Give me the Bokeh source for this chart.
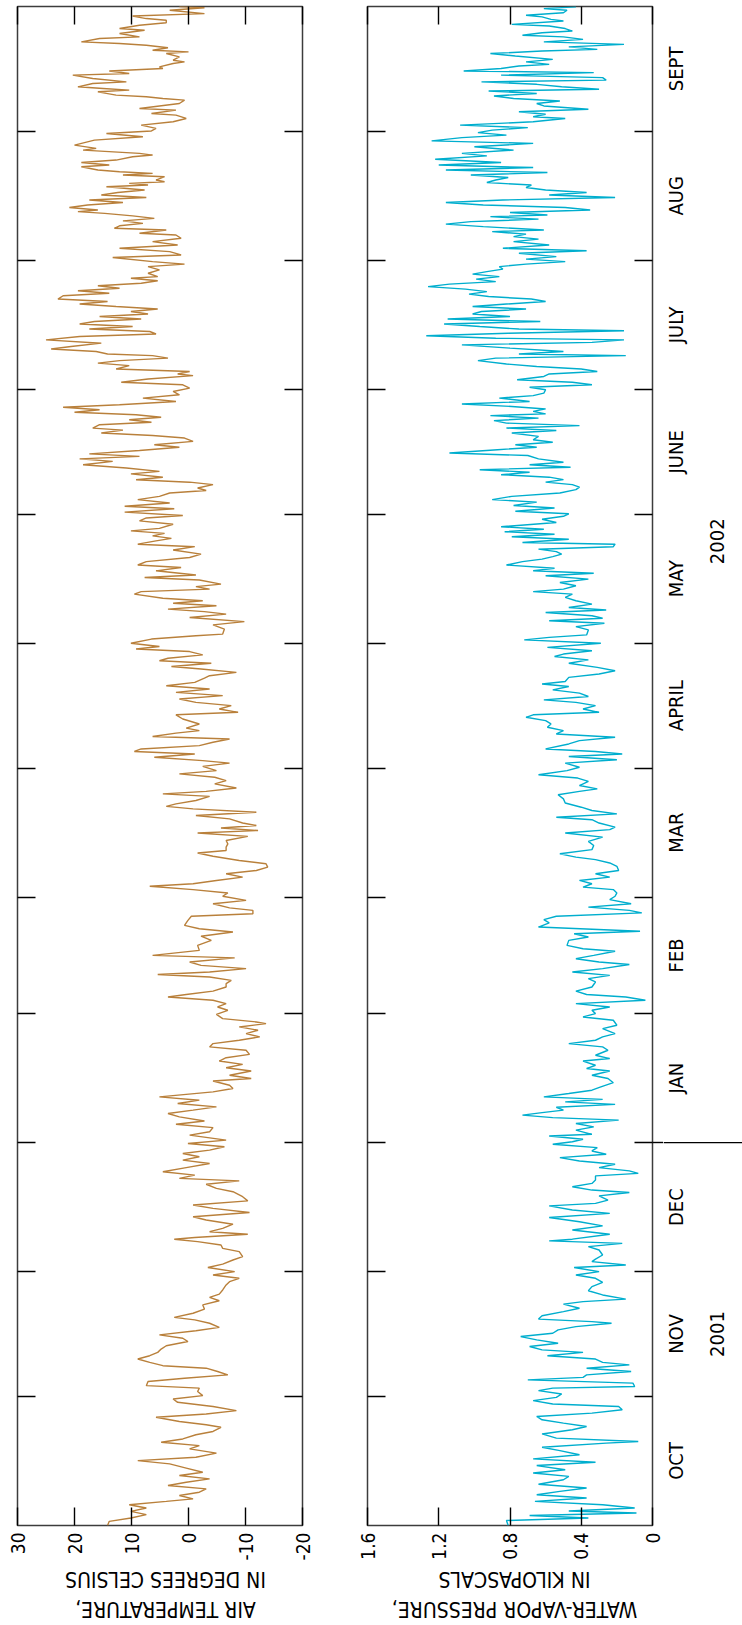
import math
from bokeh.plotting import figure
from bokeh.models import Range1d, FixedTicker, LinearAxis, ColumnDataSource
from bokeh.layouts import row, column
from bokeh.embed import file_html
from bokeh.resources import INLINE
from bokeh.core.properties import value

# ---------------- data (water year Oct 2001 - Sept 2002, day 0 = Oct 1 2001) -------------
month_starts = [0, 31, 61, 92, 123, 151, 182, 212, 243, 273, 304, 335, 365]
month_names = ["OCT", "NOV", "DEC", "JAN", "FEB", "MAR", "APRIL", "MAY", "JUNE", "JULY", "AUG", "SEPT"]
year_names = ["2001", "2002"]
year_label_days = [46.0, 236.5]

temp_ticks = [30, 20, 10, 0, -10, -20]
temp_tick_labels = ["30", "20", "10", "0", "-10", "-20"]
vp_ticks = [1.6, 1.2, 0.8, 0.4, 0]
vp_tick_labels = ["1.6", "1.2", "0.8", "0.4", "0"]
temp_title = ["IN DEGREES CELSIUS", "AIR TEMPERATURE,"]
vp_title = ["IN KILOPASCALS", "WATER-VAPOR PRESSURE,"]

temp_pts = [
(0.0,14.2),(1.0,13.9),(1.8,10.1),(2.6,7.4),(3.4,10.1),(4.2,7.4),(5.0,10.4),(5.8,3.9),(6.4,-0.8),(7.2,1.6),
(8.0,-1.9),(8.8,-3.1),(9.6,3.6),(10.4,0.4),(11.2,-3.7),(12.0,1.6),(12.8,-2.5),(13.8,0.4),(14.8,3.3),(15.6,8.9),
(16.4,-1.3),(17.4,-4.9),(18.4,-0.2),(19.2,-1.9),(20.0,4.8),(20.8,1.0),(21.8,-1.3),(22.6,-4.3),(23.6,-5.7),(24.2,-3.1),
(25.0,1.6),(26.0,5.7),(26.8,-3.1),(27.6,-8.4),(28.6,-4.3),(29.6,1.9),(30.4,2.7),(31.2,-2.5),(32.2,-1.6),(33.0,-1.9),
(33.6,7.4),(34.6,7.1),(35.4,0.7),(36.2,-6.9),(37.0,-5.1),(37.8,-3.1),(38.4,4.5),(39.2,6.8),(40.0,8.9),(40.8,6.8),
(41.6,5.4),(42.4,4.8),(43.2,3.9),(44.2,0.1),(45.0,1.0),(45.8,5.1),(46.8,-1.3),(47.6,-5.4),(48.6,-3.7),(49.4,-1.1),
(50.0,2.5),(51.0,-0.8),(52.0,-2.8),(53.0,-2.5),(54.0,-5.4),(54.8,-3.7),(55.6,-5.4),(56.6,-6.0),(57.8,-6.6),(58.6,-7.2),
(59.4,-8.9),(60.2,-4.3),(61.0,-8.1),(62.0,-3.4),(62.8,-6.0),(63.8,-7.8),(64.6,-9.5),(65.8,-8.9),(66.6,-6.0),(67.4,-5.7),
(68.2,-1.6),(68.8,2.5),(69.2,-1.1),(70.0,-10.4),(70.6,-3.7),(71.4,-6.0),(72.4,-7.8),(73.4,-3.1),(74.2,-0.8),(75.2,-10.7),
(76.2,-4.3),(77.0,-0.8),(78.0,-10.4),(79.0,-9.5),(80.2,-7.8),(81.0,-4.9),(82.0,-3.1),(82.8,-8.9),(83.4,1.6),(84.2,-1.1),
(85.0,4.5),(86.0,0.4),(87.0,-3.7),(87.8,1.0),(88.6,-1.9),(89.4,1.0),(90.2,-3.7),(91.0,-6.3),(91.8,0.1),(92.6,-6.6),
(93.8,-0.2),(94.6,-3.7),(95.6,-4.3),(96.4,2.2),(97.2,-2.8),(98.2,1.6),(99.0,3.6),(99.8,-0.8),(100.6,-4.9),(101.4,1.9),
(102.2,-1.9),(103.0,5.1),(104.2,-4.3),(105.0,-7.8),(105.8,-7.2),(106.8,-4.3),(107.4,-11.0),(108.2,-7.2),(109.2,-11.0),(110.0,-6.6),
(110.8,-9.5),(111.6,-5.4),(112.4,-6.6),(113.2,-10.7),(114.2,-10.1),(115.0,-3.7),(115.8,-4.3),(116.6,-8.9),(117.4,-12.5),(118.2,-10.1),
(119.0,-12.2),(119.8,-8.9),(120.6,-13.6),(121.0,-11.9),(121.8,-6.0),(122.8,-4.9),(123.8,-6.9),(124.6,-5.1),(125.4,-6.6),(126.2,-4.3),
(127.0,3.6),(127.6,0.4),(128.4,-4.3),(129.4,-6.6),(130.2,-6.6),(131.0,-7.5),(131.8,-3.7),(132.4,5.4),(133.0,-3.7),(133.8,-10.1),
(134.6,-2.2),(135.4,-0.2),(136.4,-8.1),(137.0,6.3),(138.2,-1.9),(139.4,-1.6),(140.6,-4.0),(141.6,-2.2),(142.6,-7.8),(143.4,-1.9),
(144.2,0.7),(145.4,0.1),(146.4,-0.5),(147.0,-11.3),(147.8,-11.3),(148.4,-7.2),(149.4,-4.3),(150.2,-10.1),(151.2,-6.0),(152.0,-6.9),
(152.8,-0.8),(153.6,6.8),(154.2,-0.8),(155.0,-4.9),(155.8,-9.5),(156.6,-6.6),(157.4,-11.9),(158.2,-13.9),(159.0,-13.6),(159.8,-8.9),
(160.8,-4.3),(161.6,-1.6),(162.2,-6.6),(163.0,-6.6),(163.8,-6.9),(164.6,-6.6),(165.6,-10.4),(166.4,-1.6),(167.0,-12.2),(167.6,-5.7),
(168.2,-11.9),(168.8,-9.5),(169.8,-7.2),(170.6,-1.3),(171.4,-11.9),(172.2,-0.8),(172.8,3.9),(173.4,2.2),(174.2,-1.3),(175.2,-3.7),
(175.8,4.5),(176.4,-3.1),(177.2,-8.4),(178.2,-4.6),(179.0,-6.6),(179.8,-4.6),(180.6,1.6),(181.4,-4.9),(182.4,-2.5),(183.2,-7.2),
(183.8,-2.5),(184.6,6.0),(185.4,-1.1),(186.0,9.5),(186.6,8.3),(187.4,-1.9),(188.2,-4.3),(189.0,-7.2),(189.6,6.3),(190.4,2.2),
(191.0,-1.9),(191.6,0.4),(192.6,-1.9),(193.8,1.0),(194.8,2.2),(195.4,-8.7),(196.2,-5.4),(197.0,-7.5),(197.8,-1.3),(198.6,1.6),
(199.4,-6.0),(200.2,2.2),(201.0,-3.7),(201.8,3.9),(202.6,-1.1),(203.6,-2.8),(204.2,-3.7),(205.0,-8.4),(205.8,-2.2),(206.4,3.0),
(207.2,-4.0),(207.8,5.1),(208.4,3.6),(209.2,-2.5),(210.0,-0.2),(210.6,9.2),(211.2,5.1),(212.0,10.1),(213.0,6.5),(213.8,-1.3),
(214.2,-6.0),(215.4,-6.3),(216.4,-4.3),(217.2,-9.8),(218.2,-0.2),(219.0,-6.6),(219.6,-2.8),(220.2,3.6),(221.0,-4.9),(221.6,2.7),
(222.2,-2.5),(222.8,4.5),(223.8,9.5),(224.4,8.3),(225.0,-3.7),(225.6,-1.3),(226.2,-5.7),(227.2,-1.9),(227.8,7.7),(228.4,-1.3),
(229.4,5.7),(230.2,1.3),(230.8,8.9),(231.6,7.4),(232.6,-0.2),(233.4,-2.2),(234.4,2.7),(235.2,-1.1),(235.8,8.9),(236.6,5.7),
(237.2,3.0),(237.8,6.3),(238.4,4.2),(239.0,10.1),(239.6,5.1),(240.6,2.7),(241.4,8.6),(242.1,7.4),(242.7,1.0),(243.5,11.2),
(244.3,2.5),(244.9,11.2),(245.7,3.3),(246.5,8.9),(247.3,5.1),(248.1,3.3),(248.7,-3.1),(249.3,-1.6),(250.1,-4.3),(250.7,-0.2),
(251.3,9.2),(251.9,4.5),(252.7,10.1),(253.3,5.1),(254.1,10.9),(254.9,18.5),(255.7,13.3),(256.3,19.1),(256.9,8.6),(257.5,17.4),
(258.3,8.6),(259.1,1.6),(259.7,6.0),(260.5,-0.8),(261.3,0.7),(261.9,6.3),(262.5,15.3),(263.2,11.5),(263.7,16.8),(264.5,15.6),
(265.1,6.5),(265.7,10.4),(266.3,4.8),(266.9,9.2),(267.5,20.0),(268.1,15.6),(268.7,22.0),(269.3,12.1),(270.1,2.2),(270.9,8.0),
(271.7,1.6),(272.5,2.7),(273.3,-0.2),(274.1,1.0),(274.7,11.8),(275.5,7.1),(276.3,-0.8),(276.7,1.9),(277.3,-0.2),(277.9,12.7),
(278.7,10.4),(279.3,15.9),(279.9,12.1),(280.5,3.6),(281.1,6.3),(281.5,14.2),(282.1,16.2),(282.7,24.1),(283.3,20.6),(284.1,15.3),
(284.9,25.0),(285.7,19.1),(286.3,5.7),(286.9,6.8),(287.5,17.4),(288.1,9.8),(288.7,19.1),(289.3,16.5),(289.9,8.3),(290.5,15.6),
(291.1,7.1),(291.7,10.1),(292.3,5.4),(292.9,12.7),(293.5,19.1),(294.1,14.2),(294.7,22.9),(295.5,22.0),(296.1,13.9),(296.7,19.4),
(297.3,12.1),(297.9,15.9),(298.5,8.3),(299.1,5.4),(299.7,10.1),(300.1,5.4),(300.9,7.1),(301.7,5.1),(302.5,7.1),(303.1,0.7),
(303.7,6.3),(304.7,13.3),(305.3,1.3),(306.1,3.3),(306.9,12.1),(307.7,1.9),(308.5,6.3),(309.3,1.3),(310.1,2.2),(310.5,8.6),
(311.3,3.9),(311.7,13.0),(312.3,12.1),(312.9,8.0),(313.5,11.5),(314.1,6.0),(314.7,9.8),(315.3,14.7),(315.7,19.4),(316.1,15.9),
(316.7,20.9),(317.3,17.7),(317.9,11.5),(318.5,17.4),(319.1,7.4),(319.7,15.3),(320.3,12.4),(320.9,7.7),(321.7,14.4),(322.1,7.1),
(322.5,10.4),(322.9,4.2),(323.3,5.7),(324.1,4.2),(324.5,11.5),(324.9,6.3),(325.3,12.1),(325.7,15.9),(326.5,18.8),(326.9,13.9),
(327.5,18.8),(328.1,12.7),(328.9,9.8),(329.3,6.3),(329.7,8.6),(330.5,18.5),(330.9,16.2),(331.7,20.0),(332.9,16.5),(333.7,8.0),
(334.5,14.4),(335.1,6.5),(335.7,5.7),(336.5,8.3),(337.3,2.7),(338.1,0.4),(338.9,2.2),(339.3,6.5),(340.1,2.2),(340.5,8.6),
(341.7,1.6),(342.5,0.7),(342.9,4.5),(343.3,7.4),(343.7,12.7),(344.5,15.9),(344.9,10.4),(345.3,15.0),(345.7,19.4),(346.5,16.8),
(346.9,10.9),(347.7,16.8),(348.5,20.3),(348.9,10.4),(349.5,13.9),(350.1,4.5),(350.5,5.1),(351.3,2.7),(351.7,0.7),(352.1,2.7),
(352.9,1.6),(353.7,3.9),(354.1,0.0),(354.5,6.3),(355.1,3.6),(355.7,7.4),(356.1,12.1),(356.5,18.8),(357.3,15.6),(357.7,8.6),
(358.5,12.1),(359.3,7.7),(359.7,12.1),(360.5,8.6),(361.1,3.9),(361.7,3.9),(362.1,7.4),(362.7,9.8),(363.3,-2.8),(364.1,3.3),
(364.7,-2.8),(365.0,1.6),
]

vp_pts = [
(0.0,0.81),(1.2,0.82),(1.8,0.36),(2.4,0.69),(3.0,0.09),(3.5,0.47),(4.2,0.10),(5.0,0.28),(5.8,0.66),(6.6,0.37),
(7.4,0.65),(8.2,0.52),(9.0,0.37),(9.9,0.64),(11.0,0.50),(11.8,0.47),(12.6,0.67),(13.4,0.49),(14.4,0.65),(15.2,0.32),
(16.0,0.67),(17.0,0.41),(18.0,0.52),(18.8,0.62),(19.8,0.26),(20.2,0.08),(21.0,0.54),(22.0,0.62),(23.0,0.45),(23.8,0.37),
(24.6,0.50),(25.4,0.62),(26.2,0.65),(27.0,0.34),(27.8,0.17),(28.6,0.19),(29.2,0.56),(30.0,0.67),(30.8,0.54),(31.6,0.51),
(32.4,0.64),(33.0,0.56),(33.4,0.10),(34.2,0.11),(35.0,0.70),(35.6,0.39),(36.2,0.37),(37.0,0.12),(37.8,0.37),(38.6,0.13),
(39.2,0.28),(40.0,0.32),(40.8,0.59),(41.6,0.39),(42.2,0.62),(43.0,0.69),(43.8,0.53),(44.6,0.65),(45.4,0.74),(46.2,0.56),
(47.0,0.53),(47.8,0.43),(48.6,0.23),(49.0,0.34),(49.6,0.64),(50.4,0.62),(51.4,0.50),(52.2,0.41),(53.2,0.50),(53.8,0.39),
(54.4,0.15),(55.4,0.28),(56.4,0.36),(57.4,0.34),(58.4,0.28),(59.4,0.32),(60.2,0.43),(61.0,0.30),(62.0,0.44),(62.6,0.15),
(63.4,0.34),(64.0,0.32),(65.0,0.28),(66.2,0.30),(67.0,0.36),(67.8,0.17),(68.4,0.58),(68.8,0.45),(70.0,0.24),(71.0,0.45),
(72.0,0.28),(73.0,0.41),(74.0,0.58),(75.0,0.24),(75.8,0.45),(76.8,0.58),(77.4,0.32),(78.2,0.25),(79.2,0.30),(80.0,0.13),
(80.6,0.34),(81.4,0.45),(82.2,0.34),(83.0,0.32),(84.0,0.32),(84.6,0.08),(85.2,0.13),(86.0,0.30),(86.8,0.21),(87.6,0.41),
(88.4,0.52),(89.2,0.26),(90.0,0.34),(90.8,0.31),(91.6,0.56),(92.2,0.45),(92.8,0.39),(93.6,0.58),(94.0,0.34),(95.0,0.43),
(95.8,0.33),(96.6,0.43),(97.4,0.19),(98.0,0.56),(98.6,0.73),(99.2,0.62),(99.8,0.50),(100.5,0.54),(101.2,0.21),(101.8,0.49),
(102.4,0.28),(103.0,0.61),(103.8,0.47),(104.6,0.34),(105.4,0.29),(106.4,0.22),(107.4,0.25),(108.2,0.34),(109.2,0.24),(109.8,0.37),
(110.6,0.32),(111.6,0.39),(112.2,0.24),(113.0,0.32),(114.2,0.25),(115.0,0.28),(115.8,0.47),(116.6,0.32),(117.4,0.28),(118.2,0.21),
(119.4,0.28),(120.2,0.20),(121.4,0.22),(122.2,0.39),(123.0,0.32),(123.8,0.34),(124.6,0.24),(125.4,0.43),(126.2,0.04),(127.0,0.15),
(127.6,0.37),(128.4,0.43),(129.4,0.34),(130.6,0.32),(131.4,0.36),(132.2,0.24),(133.0,0.45),(133.8,0.28),(134.8,0.13),(135.4,0.30),
(136.2,0.43),(137.0,0.33),(138.0,0.21),(138.6,0.39),(139.4,0.48),(140.6,0.47),(141.4,0.36),(142.2,0.44),(142.8,0.07),(143.8,0.64),
(144.8,0.58),(145.6,0.61),(146.4,0.54),(147.2,0.06),(147.8,0.13),(148.6,0.36),(149.4,0.12),(150.4,0.24),(151.2,0.21),(152.0,0.20),
(152.8,0.22),(153.4,0.39),(154.2,0.34),(155.0,0.41),(155.8,0.24),(156.6,0.32),(157.4,0.19),(158.4,0.20),(159.2,0.24),(160.0,0.32),
(160.6,0.43),(161.4,0.52),(162.4,0.34),(163.4,0.33),(164.4,0.36),(165.4,0.28),(166.4,0.49),(167.2,0.24),(167.8,0.21),(168.8,0.30),
(169.6,0.34),(170.2,0.54),(171.0,0.20),(171.8,0.34),(172.6,0.40),(173.6,0.49),(174.6,0.50),(175.6,0.53),(176.4,0.41),(177.0,0.31),
(177.8,0.41),(178.8,0.36),(179.6,0.42),(180.4,0.64),(181.4,0.48),(182.2,0.41),(183.2,0.49),(184.0,0.20),(184.8,0.47),(185.4,0.17),
(186.0,0.32),(186.6,0.60),(187.8,0.47),(188.6,0.41),(189.4,0.21),(190.2,0.54),(191.0,0.50),(191.8,0.59),(192.6,0.57),(193.4,0.60),
(194.2,0.71),(194.8,0.67),(195.4,0.30),(196.2,0.39),(197.0,0.32),(197.8,0.43),(198.4,0.61),(199.2,0.36),(200.0,0.41),(200.8,0.56),
(201.6,0.47),(202.2,0.62),(202.8,0.49),(203.8,0.47),(204.6,0.30),(205.4,0.21),(206.2,0.31),(207.2,0.47),(208.0,0.36),(208.8,0.55),
(209.4,0.50),(210.2,0.34),(211.0,0.59),(212.0,0.29),(212.8,0.72),(213.4,0.58),(214.0,0.37),(215.2,0.36),(216.0,0.43),(216.8,0.27),
(217.4,0.58),(218.0,0.28),(218.6,0.34),(219.4,0.60),(220.0,0.26),(220.6,0.47),(221.4,0.34),(222.2,0.43),(223.0,0.49),(223.8,0.45),
(224.4,0.67),(225.0,0.50),(225.8,0.43),(226.6,0.52),(227.4,0.36),(228.2,0.60),(228.8,0.33),(229.4,0.67),(230.0,0.55),(230.8,0.82),
(231.6,0.73),(232.2,0.62),(232.8,0.56),(233.4,0.51),(234.0,0.54),(234.6,0.64),(235.2,0.22),(235.8,0.21),(236.2,0.73),(237.0,0.47),
(237.6,0.79),(238.2,0.55),(238.8,0.83),(239.4,0.61),(240.0,0.85),(241.0,0.54),(241.8,0.62),(242.5,0.50),(243.1,0.47),(243.7,0.77),
(244.5,0.55),(245.1,0.78),(245.9,0.65),(246.5,0.90),(247.3,0.79),(248.1,0.52),(248.9,0.43),(249.5,0.41),(250.1,0.45),(250.7,0.60),
(251.3,0.50),(251.9,0.58),(252.5,0.85),(253.1,0.69),(253.7,0.97),(254.3,0.46),(254.9,0.69),(255.5,0.50),(256.3,0.64),(257.1,0.70),
(257.7,1.14),(258.5,0.87),(259.1,0.65),(259.7,0.77),(260.3,0.56),(260.9,0.67),(261.7,0.64),(262.5,0.79),(263.1,0.54),(263.7,0.82),
(264.3,0.41),(264.9,0.82),(265.5,0.89),(266.1,0.64),(266.7,0.91),(267.1,0.60),(267.7,0.67),(268.3,0.60),(268.9,0.79),(269.5,1.07),
(270.1,0.69),(270.9,0.86),(271.5,0.67),(272.1,0.61),(272.9,0.60),(273.5,0.69),(274.1,0.34),(274.7,0.45),(275.3,0.76),(276.1,0.61),
(276.7,0.58),(277.3,0.31),(277.9,0.40),(278.5,0.65),(279.1,0.82),(279.9,0.98),(280.5,0.88),(281.1,0.15),(281.5,0.75),(282.1,0.50),
(282.9,0.80),(283.7,1.07),(284.3,0.34),(284.9,0.16),(285.3,0.88),(285.9,1.27),(286.5,0.81),(287.1,0.16),(287.5,0.75),(288.1,0.97),
(288.7,1.17),(289.3,0.63),(289.9,1.15),(290.5,0.80),(291.1,1.01),(291.7,0.96),(292.3,0.71),(292.9,1.01),(293.5,0.82),(294.1,0.60),
(294.7,0.68),(295.3,0.92),(295.9,1.03),(296.5,0.93),(297.1,1.05),(297.7,1.26),(298.3,1.14),(298.9,0.88),(299.5,0.99),(300.1,0.86),
(300.7,1.01),(301.3,0.93),(301.9,0.84),(302.5,0.86),(303.1,0.71),(303.7,0.49),(304.3,0.71),(304.9,0.54),(305.7,0.75),(306.3,0.37),
(306.9,0.84),(307.7,0.58),(308.5,0.78),(309.1,0.64),(309.7,0.78),(310.3,0.71),(310.9,0.90),(311.3,0.61),(312.1,0.95),(312.7,1.16),
(313.3,1.02),(313.9,0.64),(314.5,0.91),(314.9,0.59),(315.5,0.80),(316.1,0.35),(316.7,0.49),(317.3,0.95),(317.9,1.16),(318.5,0.84),
(319.1,0.21),(319.7,0.58),(320.3,0.37),(320.9,0.60),(321.5,0.71),(322.1,0.68),(322.7,0.93),(323.3,0.88),(323.9,0.81),(324.5,1.02),
(325.1,0.59),(325.7,1.16),(326.3,0.67),(326.9,1.20),(327.5,0.85),(328.3,1.22),(329.1,0.93),(329.7,1.07),(330.5,0.78),(331.3,1.00),
(332.1,0.67),(332.7,1.24),(333.5,1.07),(334.1,0.82),(334.7,0.98),(335.3,0.90),(335.9,0.70),(336.5,1.08),(337.3,0.67),(338.1,0.49),
(338.5,0.67),(339.1,0.60),(339.7,0.75),(340.3,0.36),(341.1,0.61),(341.7,0.65),(342.3,0.52),(342.9,0.78),(343.5,0.89),(344.1,0.65),
(344.7,0.92),(345.1,0.30),(345.7,0.51),(346.3,0.65),(346.9,0.96),(347.3,0.26),(347.9,0.28),(348.5,0.85),(349.1,0.33),(349.5,1.06),
(350.1,0.85),(350.7,0.75),(351.1,0.58),(351.7,0.71),(352.3,0.56),(353.1,0.77),(353.7,0.91),(354.3,0.62),(354.7,0.31),(355.3,0.47),
(355.9,0.16),(356.5,0.61),(357.1,0.39),(357.7,0.50),(358.1,0.73),(358.7,0.62),(359.1,0.45),(359.7,0.49),(360.3,0.58),(360.7,0.79),
(361.5,0.50),(361.9,0.57),(362.5,0.62),(362.9,0.71),(363.5,0.50),(364.1,0.48),(364.5,0.61),(364.9,0.43),
]

temp_day = [d for d, v in temp_pts]
temp_c = [v for d, v in temp_pts]
vp_day = [d for d, v in vp_pts]
vp_kpa = [v for d, v in vp_pts]

# ---------------- styling / layout ----------------
FONT = "DejaVu Sans Condensed"
FS_TICK = "19px"
FS_MONTH = "20px"
FS_TITLE = "21px"
TEMP_COLOR = "#B9803B"
VP_COLOR = "#00AECE"
TOP = 6
FRAME_H = 1521
BOTTOM = 36
TITLE_H = 60
TICK_IN = 18
W1, W2, W3 = 322, 341, 79
SEP_OUT = 11

boundary_ticks = month_starts[1:-1]


def hidden_label_axis(ax):
    ax.major_label_text_color = None
    ax.major_label_text_font_size = "1px"
    ax.major_label_standoff = 0
    ax.axis_line_color = None
    ax.minor_tick_line_color = None
    ax.major_tick_in = TICK_IN
    ax.major_tick_out = 0
    ax.major_tick_line_color = "black"
    ax.major_tick_line_width = 1.4


def make_panel(width, xr, ticks, tick_labels, xs, ys, color, bl, br, year_sep=False):
    p = figure(width=width, height=TOP + FRAME_H + BOTTOM,
               x_range=xr, y_range=Range1d(0, 365),
               output_backend="svg", toolbar_location=None,
               min_border_left=bl, min_border_right=br,
               min_border_top=TOP, min_border_bottom=BOTTOM,
               background_fill_color="white", border_fill_color="white",
               outline_line_color="#3c3c3c", outline_line_width=1.5)
    p.grid.visible = False

    src = ColumnDataSource(dict(day=xs, val=ys))
    p.line(x="val", y="day", source=src, line_color=color, line_width=1.4)

    xa = p.xaxis[0]
    xa.ticker = FixedTicker(ticks=ticks)
    xa.major_label_overrides = {t: s for t, s in zip(ticks, tick_labels)}
    xa.major_label_orientation = math.pi / 2
    xa.major_label_text_font = FONT
    xa.major_label_text_font_size = FS_TICK
    xa.major_label_text_color = "black"
    xa.major_label_standoff = 7
    xa.axis_line_color = None
    xa.minor_tick_line_color = None
    xa.major_tick_in = TICK_IN
    xa.major_tick_out = 0
    xa.major_tick_line_color = "black"
    xa.major_tick_line_width = 1.4

    top = LinearAxis(ticker=FixedTicker(ticks=ticks))
    hidden_label_axis(top)
    p.add_layout(top, "above")

    ya = p.yaxis[0]
    ya.ticker = FixedTicker(ticks=boundary_ticks)
    hidden_label_axis(ya)

    if year_sep:
        ra = LinearAxis(ticker=FixedTicker(ticks=boundary_ticks, minor_ticks=[month_starts[3]]))
        hidden_label_axis(ra)
        ra.minor_tick_line_color = "black"
        ra.minor_tick_line_width = 1.4
        ra.minor_tick_in = 0
        ra.minor_tick_out = br
    else:
        ra = LinearAxis(ticker=FixedTicker(ticks=boundary_ticks))
        hidden_label_axis(ra)
    p.add_layout(ra, "right")
    return p


def make_title(width, lines, cx):
    t = figure(width=width, height=TITLE_H, x_range=Range1d(0, width), y_range=Range1d(0, TITLE_H),
               output_backend="svg", toolbar_location=None,
               min_border_left=0, min_border_right=0, min_border_top=0, min_border_bottom=0,
               outline_line_color=None, background_fill_color="white", border_fill_color="white")
    t.axis.visible = False
    t.grid.visible = False
    t.text(x=[cx, cx], y=[TITLE_H - 15, TITLE_H - 45], text=lines, angle=math.pi,
           text_align="center", text_baseline="middle",
           text_font=value(FONT), text_font_size=value(FS_TITLE), text_color="black")
    return t


p1 = make_panel(W1, Range1d(30, -20), temp_ticks, temp_tick_labels, temp_day, temp_c,
                TEMP_COLOR, 17, 20)
p2 = make_panel(W2, Range1d(1.6, 0), vp_ticks, vp_tick_labels, vp_day, vp_kpa,
                VP_COLOR, 45, SEP_OUT, year_sep=True)

# right-hand label strip (months, years, year separator)
q = figure(width=W3, height=TOP + FRAME_H + BOTTOM,
           x_range=Range1d(0, W3), y_range=Range1d(0, 365),
           output_backend="svg", toolbar_location=None,
           min_border_left=0, min_border_right=0, min_border_top=TOP, min_border_bottom=BOTTOM,
           outline_line_color=None, background_fill_color="white", border_fill_color="white")
q.axis.visible = False
q.grid.visible = False
mid_days = [(a + b) / 2 for a, b in zip(month_starts[:-1], month_starts[1:])]
q.text(x=[12] * len(month_names), y=mid_days, text=month_names, angle=math.pi / 2,
       text_align="center", text_baseline="middle",
       text_font=value(FONT), text_font_size=value(FS_MONTH), text_color="black")
q.text(x=[53] * len(year_names), y=year_label_days, text=year_names, angle=math.pi / 2,
       text_align="center", text_baseline="middle",
       text_font=value(FONT), text_font_size=value(FS_MONTH), text_color="black")
jan1 = month_starts[3]
q.segment(x0=[0], x1=[W3], y0=[jan1], y1=[jan1], line_color="black", line_width=1.4)

t1 = make_title(W1, temp_title, 165)
t2 = make_title(W2, vp_title, 192)

layout = column(row(p1, p2, q), row(t1, t2))
open("out.html", "w").write(file_html(layout, INLINE))
